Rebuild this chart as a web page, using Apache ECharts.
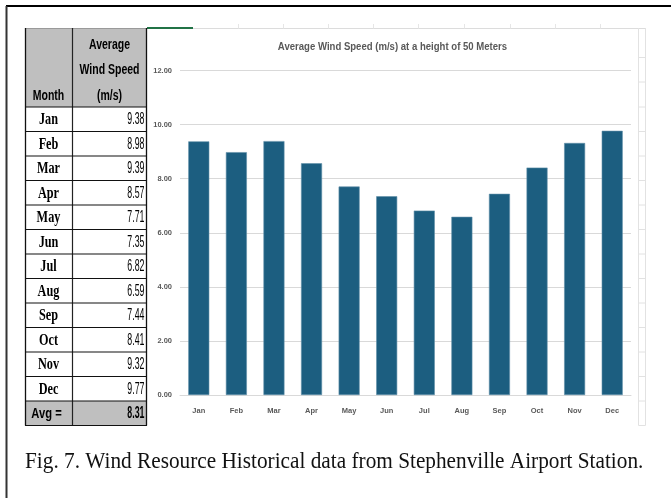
<!DOCTYPE html>
<html>
<head>
<meta charset="utf-8">
<script src="https://cdn.jsdelivr.net/npm/echarts@6/dist/echarts.min.js"></script>
<style>
  html, body { margin: 0; padding: 0; background: #fff; }
  #chart { width: 671px; height: 498px; }
</style>
</head>
<body>
<div id="chart"></div>
<script>
// Monthly mean wind speed at 50 m, Stephenville Airport station
const months = ['Jan', 'Feb', 'Mar', 'Apr', 'May', 'Jun', 'Jul', 'Aug', 'Sep', 'Oct', 'Nov', 'Dec'];
const windSpeed = [9.38, 8.98, 9.39, 8.57, 7.71, 7.35, 6.82, 6.59, 7.44, 8.41, 9.32, 9.77];
const avgSpeed = 8.31;
const headerLines = ['Average', 'Wind Speed', '(m/s)'];
const monthHeader = 'Month';
const avgLabel = 'Avg =';
const chartTitle = 'Average Wind Speed (m/s) at a height of 50 Meters';
const caption = 'Fig. 7. Wind Resource Historical data from Stephenville Airport Station.';

// table geometry
const T = { left: 25, mid: 72, right: 147, top: 28, headBottom: 107, rowH: 24.5 };
const nRows = months.length + 1;
const tableBottom = T.headBottom + nRows * T.rowH;

const SANS = '"Liberation Sans", Arial, sans-serif';
const SERIF = '"Liberation Serif", "Times New Roman", serif';

// text drawn with a horizontal squeeze (sx) around its anchor point
function txt(str, x, y, font, align, sx, fill) {
  return {
    type: 'text', x: x, y: y, scaleX: sx || 1, silent: true,
    style: {
      text: str, x: 0, y: 0, font: font,
      textAlign: align, align: align,
      textVerticalAlign: 'middle', verticalAlign: 'middle',
      fill: fill || '#000'
    }
  };
}
function line(x1, y1, x2, y2, color, w) {
  return { type: 'line', silent: true, shape: { x1, y1, x2, y2 }, style: { stroke: color, lineWidth: w } };
}

const g = [];

// sheet gridlines around the chart box
g.push(line(147, 28.5, 645, 28.5, '#dcdcdc', 1));
[238, 283, 328, 373, 418, 464, 510, 555, 600].forEach(x => g.push(line(x + 0.5, 24, x + 0.5, 28.5, '#e6e6e6', 1)));
g.push(line(638.5, 28, 638.5, tableBottom, '#e2e2e2', 1));
g.push(line(645.5, 28, 645.5, tableBottom, '#e2e2e2', 1));
for (let i = 0; i <= nRows; i++) {
  const y = T.headBottom + i * T.rowH;
  g.push(line(638.5, y, 645.5, y, '#e2e2e2', 1));
}
g.push(line(638.5, 57.5, 645.5, 57.5, '#e2e2e2', 1));
g.push(line(638.5, 82, 645.5, 82, '#e2e2e2', 1));
// active cell marker
g.push(line(147, 28, 193, 28, '#217346', 2));

// table fills
g.push({ type: 'rect', silent: true, shape: { x: T.left, y: T.top, width: T.right - T.left, height: T.headBottom - T.top }, style: { fill: '#bfbfbf' } });
g.push({ type: 'rect', silent: true, shape: { x: T.left, y: tableBottom - T.rowH, width: T.right - T.left, height: T.rowH }, style: { fill: '#bfbfbf' } });

// table rules
g.push(line(T.left, T.top + 0.5, T.right, T.top + 0.5, '#9a9a9a', 1));
g.push(line(T.left + 0.5, T.top, T.left + 0.5, tableBottom, '#111', 1.3));
g.push(line(T.mid + 0.5, T.top, T.mid + 0.5, tableBottom, '#222', 1.2));
g.push(line(T.right - 0.5, T.top, T.right - 0.5, tableBottom, '#111', 1.3));
for (let i = 0; i <= nRows; i++) {
  const y = T.headBottom + i * T.rowH;
  g.push(line(T.left, y, T.right, y, '#111', 1.2));
}

// header text
const colMonthC = (T.left + T.mid) / 2;
const colValC = (T.mid + T.right) / 2;
headerLines.forEach((s, i) => g.push(txt(s, colValC, 45 + i * 25.5, 'bold 14px ' + SANS, 'center', 0.75)));
g.push(txt(monthHeader, colMonthC, 96, 'bold 14px ' + SANS, 'center', 0.75));

// body rows
months.forEach((m, i) => {
  const cy = T.headBottom + i * T.rowH + T.rowH / 2 + 0.5;
  g.push(txt(m, colMonthC, cy, 'bold 17px ' + SERIF, 'center', 0.72));
  g.push(txt(windSpeed[i].toFixed(2), T.right - 2.5, cy, '16px ' + SANS, 'right', 0.55));
});
const avgY = tableBottom - T.rowH / 2 + 0.5;
g.push(txt(avgLabel, colMonthC - 2, avgY, 'bold 14px ' + SANS, 'center', 0.8));
g.push(txt(avgSpeed.toFixed(2), T.right - 2.5, avgY, 'bold 16px ' + SANS, 'right', 0.55));

// chart title
g.push(txt(chartTitle, 392.5, 47, 'bold 11px ' + SANS, 'center', 0.87, '#595959'));

// figure caption
g.push(txt(caption, 25, 462, '23px ' + SERIF, 'left', 0.925, '#111'));

// page frame
g.push(line(6, 6, 671, 6, '#000', 2));
g.push(line(6.5, 6, 6.5, 498, '#333', 2));

const chart = echarts.init(document.getElementById('chart'), null, { renderer: 'canvas' });
chart.setOption({
  backgroundColor: '#fff',
  animation: false,
  grid: { left: 180, right: 40, top: 70.5, bottom: 103, containLabel: false },
  xAxis: {
    type: 'category',
    data: months,
    axisLine: { show: true, lineStyle: { color: '#d9d9d9', width: 1 } },
    axisTick: { show: false },
    axisLabel: { color: '#595959', fontFamily: SANS, fontWeight: 'bold', fontSize: 7.5, margin: 12 }
  },
  yAxis: {
    type: 'value',
    min: 0, max: 12, interval: 2,
    axisLine: { show: false },
    axisTick: { show: false },
    splitLine: { lineStyle: { color: '#d9d9d9', width: 1 } },
    axisLabel: {
      color: '#595959', fontFamily: SANS, fontWeight: 'bold', fontSize: 7.5, margin: 8,
      formatter: v => v.toFixed(2)
    }
  },
  series: [{
    type: 'bar',
    data: windSpeed,
    barWidth: 21,
    itemStyle: { color: '#1c5e80', borderColor: '#5f8ea8', borderWidth: 0.6 }
  }],
  graphic: g
});
</script>
</body>
</html>
